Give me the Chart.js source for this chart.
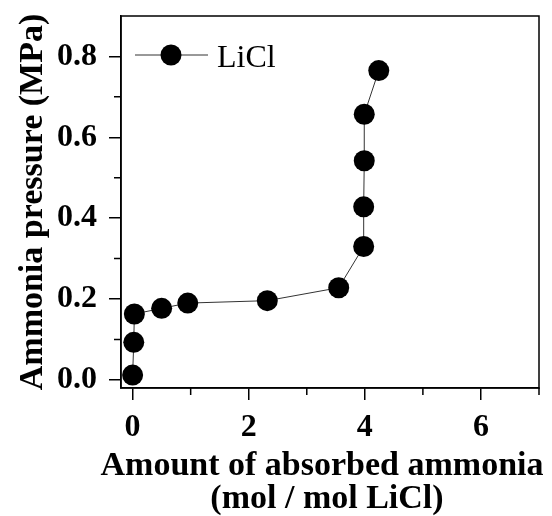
<!DOCTYPE html>
<html>
<head>
<meta charset="utf-8">
<script src="https://cdn.jsdelivr.net/npm/chart.js@4/dist/chart.umd.min.js"></script>
<style>
  html, body { margin: 0; padding: 0; background: #fff; }
  #wrap { width: 552px; height: 516px; }
</style>
</head>
<body>
<div id="wrap"><canvas id="iso"></canvas></div>
<script>
// LiCl ammonia absorption isotherm
const seriesLabel = 'LiCl';
const absorbed = [0, 0.02, 0.03, 0.50, 0.95, 2.32, 3.55, 3.98, 3.98, 3.99, 3.99, 4.24];
const pressure = [0.012, 0.093, 0.163, 0.177, 0.190, 0.196, 0.228, 0.330, 0.428, 0.542, 0.657, 0.765];

const xMinorTicks = [1, 3, 5, 7];
const yMinorTicks = [0.1, 0.3, 0.5, 0.7];
const xTitleLines = ['Amount of absorbed ammonia', '(mol / mol LiCl)'];
const yTitle = 'Ammonia pressure (MPa)';

const SERIF = '"Liberation Serif", "Times New Roman", serif';

// frame, minor ticks, inline legend and the two-line x title
const decorations = {
  id: 'decorations',
  afterDraw(chart) {
    const { ctx, chartArea: a, scales } = chart;
    ctx.save();
    ctx.strokeStyle = '#000';
    ctx.lineWidth = 1.5;
    ctx.strokeRect(a.left, a.top, a.right - a.left, a.bottom - a.top);

    ctx.beginPath();
    xMinorTicks.forEach(v => {
      const px = scales.x.getPixelForValue(v);
      ctx.moveTo(px, a.bottom);
      ctx.lineTo(px, a.bottom + 7);
    });
    yMinorTicks.forEach(v => {
      const py = scales.y.getPixelForValue(v);
      ctx.moveTo(a.left, py);
      ctx.lineTo(a.left - 7, py);
    });
    ctx.stroke();

    // legend: line - marker - line, then label
    const ds = chart.data.datasets[0];
    const ly = a.top + 39;
    ctx.strokeStyle = ds.borderColor;
    ctx.lineWidth = 1;
    ctx.beginPath();
    ctx.moveTo(a.left + 14, ly);
    ctx.lineTo(a.left + 87, ly);
    ctx.stroke();
    ctx.fillStyle = ds.pointBackgroundColor;
    ctx.beginPath();
    ctx.arc(a.left + 50, ly, ds.pointRadius, 0, Math.PI * 2);
    ctx.fill();
    ctx.fillStyle = '#000';
    ctx.font = '32px ' + SERIF;
    ctx.textAlign = 'left';
    ctx.textBaseline = 'alphabetic';
    ctx.fillText(ds.label, a.left + 96, a.top + 51);

    ctx.font = 'bold 34px ' + SERIF;
    ctx.textAlign = 'center';
    ctx.fillText(xTitleLines[0], 322, 475);
    ctx.fillText(xTitleLines[1], 327, 508);
    ctx.restore();
  }
};

const tickFont = { family: SERIF, size: 32, weight: 'bold' };

// fixed axis boxes so the plot area stays where it should
function fixBox(size, key) {
  return s => {
    s[key] = size;
    s.paddingTop = 0;
    s.paddingBottom = 0;
    s.paddingLeft = 0;
    s.paddingRight = 0;
  };
}

new Chart(document.getElementById('iso'), {
  type: 'line',
  data: {
    datasets: [{
      label: seriesLabel,
      data: absorbed.map((x, i) => ({ x, y: pressure[i] })),
      borderColor: '#333',
      borderWidth: 1,
      pointRadius: 10.5,
      pointBackgroundColor: '#000',
      pointBorderColor: '#000',
      pointBorderWidth: 0,
      tension: 0,
    }],
  },
  options: {
    responsive: true,
    maintainAspectRatio: false,
    animation: false,
    layout: { padding: { top: 16, right: 13, left: 0, bottom: 0 } },
    plugins: {
      legend: { display: false },
      tooltip: { enabled: false },
    },
    scales: {
      x: {
        type: 'linear',
        min: -0.2,
        max: 7,
        afterFit: fixBox(128, 'height'),
        border: { color: '#000', width: 1.5 },
        grid: { drawOnChartArea: false, color: '#000', lineWidth: 1.5, tickLength: 12 },
        ticks: {
          stepSize: 2,
          includeBounds: false,
          color: '#000',
          font: tickFont,
          padding: 9,
          maxRotation: 0,
          callback: v => String(v),
        },
        title: { display: false },
      },
      y: {
        min: -0.02,
        max: 0.9,
        afterFit: fixBox(121, 'width'),
        border: { color: '#000', width: 1.5 },
        grid: { drawOnChartArea: false, color: '#000', lineWidth: 1.5, tickLength: 12 },
        ticks: {
          stepSize: 0.2,
          includeBounds: false,
          color: '#000',
          font: tickFont,
          padding: 12,
          callback: v => v.toFixed(1),
        },
        title: {
          display: true,
          text: yTitle,
          color: '#000',
          font: { family: SERIF, size: 34, weight: 'bold' },
          padding: { top: 13, bottom: 0 },
        },
      },
    },
  },
  plugins: [decorations],
});
</script>
</body>
</html>
